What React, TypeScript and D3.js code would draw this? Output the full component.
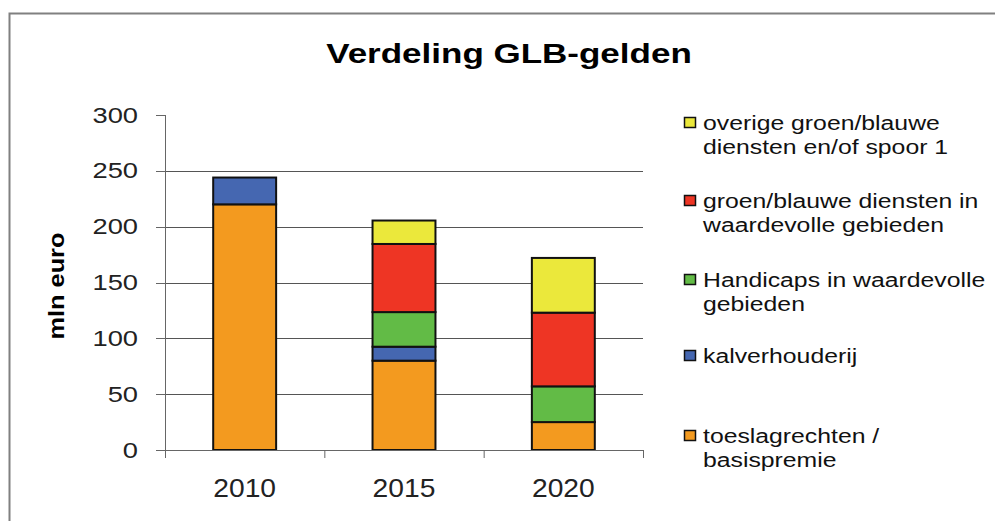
import * as d3 from 'd3';

const years = ['2010', '2015', '2020'];
const seriesKeys = ['toeslag', 'kalver', 'handicaps', 'groenblauw', 'overige'];
const seriesLabels = [
    ['toeslagrechten /', 'basispremie'],
    ['kalverhouderij'],
    ['Handicaps in waardevolle', 'gebieden'],
    ['groen/blauwe diensten in', 'waardevolle gebieden'],
    ['overige groen/blauwe', 'diensten en/of spoor 1'],
];
const seriesColors = ['#F39A1F', '#4567B1', '#62BB46', '#EE3524', '#EBE83B'];

// values per series, in mln euro (2010, 2015, 2020)
const toeslag = [220, 80, 25];
const kalver = [24, 12.5, 0];
const handicaps = [0, 31, 32];
const groenblauw = [0, 61, 66];
const overige = [0, 21, 49];

const yTicks = [0, 50, 100, 150, 200, 250, 300];

const W = 995;
const H = 521;
const FONT = '"Liberation Sans", Arial, sans-serif';

export default function App() {
    const rows = years.map((y, i) => ({
        year: y,
        toeslag: toeslag[i],
        kalver: kalver[i],
        handicaps: handicaps[i],
        groenblauw: groenblauw[i],
        overige: overige[i],
    }));

    const x = d3.scaleBand().domain(years).range([165, 643]).paddingInner(0.605).paddingOuter(0.3025);
    const y = d3.scaleLinear().domain([0, 300]).range([450, 115]);
    const stacked = d3.stack<any>().keys(seriesKeys)(rows);

    const x0 = 165;
    const x1 = 643;
    const step = x.step();

    // legend rows: top to bottom is reverse of stack order
    const legendBaselines = [443, 363, 287, 208, 130];

    return (
        <svg width={W} height={H} style={{ position: 'absolute', left: 0, top: 0, background: '#fff' }}>
            <rect x={0} y={0} width={W} height={H} fill="#fff" />
            {/* outer chart border */}
            <path d={`M9.5,${H}V13.5H${W}`} fill="none" stroke="#808080" strokeWidth={2} />

            <text
                transform={`translate(509,63) scale(1.25,1)`}
                textAnchor="middle"
                fontFamily={FONT}
                fontWeight="bold"
                fontSize={28}
                fill="#000"
            >
                Verdeling GLB-gelden
            </text>

            {/* gridlines */}
            {yTicks
                .filter((t) => t > 0 && t < 300)
                .map((t) => (
                    <line key={'g' + t} x1={x0} x2={x1} y1={Math.round(y(t)) + 0.5} y2={Math.round(y(t)) + 0.5} stroke="#555" strokeWidth={1} />
                ))}

            {/* bars */}
            {stacked.map((s, si) =>
                s.map((d, i) =>
                    d[1] - d[0] > 0 ? (
                        <rect
                            key={seriesKeys[si] + i}
                            x={x(years[i])!}
                            y={y(d[1])}
                            width={x.bandwidth()}
                            height={y(d[0]) - y(d[1])}
                            fill={seriesColors[si]}
                            stroke="#111"
                            strokeWidth={2}
                        />
                    ) : null
                )
            )}

            {/* y axis */}
            <line x1={x0 + 0.5} x2={x0 + 0.5} y1={y(300)} y2={y(0)} stroke="#666" strokeWidth={1} />
            {yTicks.map((t) => (
                <g key={'y' + t}>
                    <line x1={x0 - 9} x2={x0} y1={Math.round(y(t)) + 0.5} y2={Math.round(y(t)) + 0.5} stroke="#666" />
                    <text
                        transform={`translate(138,${y(t) + 7.5}) scale(1.27,1)`}
                        textAnchor="end"
                        fontFamily={FONT}
                        fontSize={21.5}
                        fill="#222"
                    >
                        {t}
                    </text>
                </g>
            ))}
            <text
                transform={`translate(64,286) rotate(-90) scale(1.15,1)`}
                textAnchor="middle"
                fontFamily={FONT}
                fontWeight="bold"
                fontSize={22}
                fill="#000"
            >
                mln euro
            </text>

            {/* x axis */}
            <line x1={x0} x2={x1} y1={y(0) + 0.5} y2={y(0) + 0.5} stroke="#666" strokeWidth={1} />
            {d3.range(years.length + 1).map((k) => (
                <line key={'xt' + k} x1={x0 + k * step + 0.5} x2={x0 + k * step + 0.5} y1={y(0)} y2={y(0) + 8} stroke="#666" />
            ))}
            {years.map((yr) => (
                <text
                    key={'xl' + yr}
                    transform={`translate(${x(yr)! + x.bandwidth() / 2},497) scale(1.13,1)`}
                    textAnchor="middle"
                    fontFamily={FONT}
                    fontSize={25}
                    fill="#222"
                >
                    {yr}
                </text>
            ))}

            {/* legend */}
            {seriesKeys.map((k, si) => {
                const base = legendBaselines[si];
                return (
                    <g key={'lg' + k}>
                        <rect x={684.5} y={base - 12.5} width={11} height={10} fill={seriesColors[si]} stroke="#111" strokeWidth={1.5} />
                        {seriesLabels[si].map((line, li) => (
                            <text
                                key={li}
                                transform={`translate(703,${base + li * 24}) scale(1.18,1)`}
                                fontFamily={FONT}
                                fontSize={21}
                                fill="#111"
                            >
                                {line}
                            </text>
                        ))}
                    </g>
                );
            })}
        </svg>
    );
}
